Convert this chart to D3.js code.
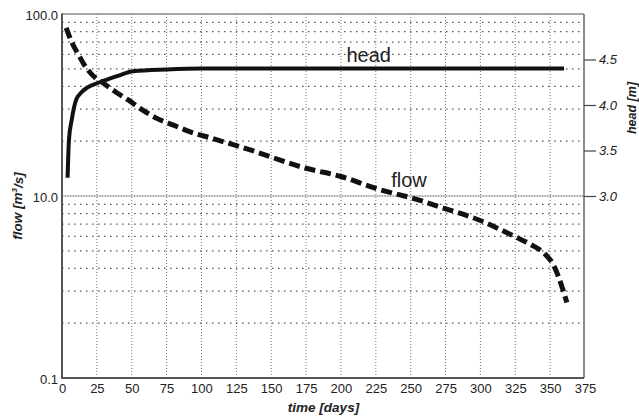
<!DOCTYPE html>
<html>
<head>
<meta charset="utf-8">
<script src="https://cdn.jsdelivr.net/npm/d3@7"></script>
<style>
  body { margin: 0; background: #fff; }
  text { font-family: "Liberation Sans", Arial, sans-serif; }
</style>
</head>
<body>
<div id="chart"></div>
<script>
// flow (left, log axis) and head (right, linear axis) against time
var flowDays = [3, 7, 12, 16, 22, 30, 38, 48, 56, 68, 80, 92, 108, 135, 175, 200, 225, 256, 274, 299, 325, 336, 347, 352, 356, 359, 362];
var flowValues = [84, 70, 59.5, 52.5, 46, 41.5, 37.5, 33.5, 30.3, 26.7, 24.5, 22.5, 20.7, 17.9, 14.2, 12.8, 11.0, 9.5, 8.56, 7.38, 5.97, 5.42, 4.74, 4.23, 3.6, 3.08, 2.6];

var headDays = [4, 5, 7, 10, 14, 18, 27, 40, 51, 75, 100, 360];
var headValues = [3.2, 3.62, 3.84, 4.05, 4.14, 4.19, 4.25, 4.32, 4.37, 4.39, 4.4, 4.4];

var xTicks = [0, 25, 50, 75, 100, 125, 150, 175, 200, 225, 250, 275, 300, 325, 350, 375];
var flowTicks = [1, 10, 100];
var flowTickLabels = ["0.1", "10.0", "100.0"];   // bottom label reads 0.1 in the original
var flowMinor = [2, 3, 4, 5, 6, 7, 8, 9, 20, 30, 40, 50, 60, 70, 80, 90];
var headTicks = [3.0, 3.5, 4.0, 4.5];

const width = 639, height = 420;
const plotLeft = 62, plotRight = 585, plotTop = 14, plotBottom = 378;

const svg = d3.select('#chart').append('svg').attr('width', width).attr('height', height);

const x = d3.scaleLinear().domain([0, 375]).range([plotLeft, plotRight]);
const y = d3.scaleLog().domain([1, 100]).range([plotBottom, plotTop]);
const yh = d3.scaleLinear().domain([1, 5]).range([plotBottom, plotTop]);

// grid
const grid = svg.append('g');
grid.selectAll('.vgrid')
    .data(xTicks.slice(1, -1))
    .enter().append('line')
    .attr('x1', d => x(d)).attr('x2', d => x(d))
    .attr('y1', plotTop).attr('y2', plotBottom)
    .attr('stroke', '#777').attr('stroke-width', 1)
    .attr('stroke-dasharray', '1,2');

grid.selectAll('.hgrid')
    .data(flowMinor)
    .enter().append('line')
    .attr('x1', plotLeft).attr('x2', plotRight - 1)
    .attr('y1', d => y(d)).attr('y2', d => y(d))
    .attr('stroke', '#555').attr('stroke-width', 1.2)
    .attr('stroke-dasharray', '1.5,4.5');

grid.append('line')
    .attr('x1', plotLeft).attr('x2', plotRight - 1)
    .attr('y1', y(10)).attr('y2', y(10))
    .attr('stroke', '#888').attr('stroke-width', 1.5)
    .attr('stroke-dasharray', '1,0.6');

// frame
svg.append('line').attr('x1', plotLeft).attr('x2', plotRight - 1).attr('y1', plotTop).attr('y2', plotTop)
    .attr('stroke', '#888').attr('stroke-width', 1.5);
svg.append('line').attr('x1', plotRight - 1).attr('x2', plotRight - 1).attr('y1', plotTop).attr('y2', plotBottom)
    .attr('stroke', '#666').attr('stroke-width', 1.5);
svg.append('line').attr('x1', plotLeft).attr('x2', plotLeft).attr('y1', plotTop - 0.5).attr('y2', plotBottom + 1)
    .attr('stroke', '#555').attr('stroke-width', 2);
svg.append('line').attr('x1', plotLeft).attr('x2', plotRight - 1).attr('y1', plotBottom).attr('y2', plotBottom)
    .attr('stroke', '#555').attr('stroke-width', 2);

// axes
const xAxis = svg.append('g')
    .attr('transform', 'translate(0,' + plotBottom + ')')
    .call(d3.axisBottom(x).tickValues(xTicks).tickSize(0).tickPadding(6));
xAxis.select('.domain').remove();
xAxis.selectAll('text').attr('font-size', 13).attr('fill', '#222').style('font-family', '"Liberation Sans", Arial, sans-serif');

const yAxis = svg.append('g')
    .attr('transform', 'translate(' + plotLeft + ',0)')
    .call(d3.axisLeft(y).tickValues(flowTicks).tickSize(0).tickPadding(4)
        .tickFormat((d, i) => flowTickLabels[i]));
yAxis.select('.domain').remove();
yAxis.selectAll('text').attr('font-size', 13).attr('fill', '#222').attr('dy', '0.45em')
    .style('font-family', '"Liberation Sans", Arial, sans-serif');

const hAxis = svg.append('g')
    .attr('transform', 'translate(' + (plotRight - 1) + ',0)')
    .call(d3.axisRight(yh).tickValues(headTicks).tickSize(12).tickPadding(3).tickFormat(d3.format('.1f')));
hAxis.select('.domain').remove();
hAxis.selectAll('line').attr('stroke', '#444').attr('stroke-width', 1.2);
hAxis.selectAll('text').attr('font-size', 13).attr('fill', '#222').attr('font-style', 'italic')
    .style('font-family', '"Liberation Sans", Arial, sans-serif');

// titles
svg.append('text')
    .attr('x', (plotLeft + plotRight) / 2).attr('y', 412)
    .attr('text-anchor', 'middle')
    .attr('font-size', 13.5).attr('font-weight', 'bold').attr('font-style', 'italic')
    .attr('fill', '#222')
    .text('time [days]');

const flowTitle = svg.append('text')
    .attr('transform', 'translate(22,206) rotate(-90)')
    .attr('text-anchor', 'middle')
    .attr('font-size', 13.5).attr('font-weight', 'bold').attr('font-style', 'italic')
    .attr('fill', '#222');
flowTitle.append('tspan').text('flow [m');
flowTitle.append('tspan').attr('font-size', 8).attr('dy', '-0.6em').text('3');
flowTitle.append('tspan').attr('dy', '0.45em').text('/s]');

svg.append('text')
    .attr('transform', 'translate(636,108) rotate(-90)')
    .attr('text-anchor', 'middle')
    .attr('font-size', 12.5).attr('font-weight', 'bold').attr('font-style', 'italic')
    .attr('fill', '#222')
    .text('head [m]');

// series
const flowData = flowDays.map((d, i) => ({day: d, v: flowValues[i]}));
const headData = headDays.map((d, i) => ({day: d, v: headValues[i]}));

svg.append('path')
    .datum(headData)
    .attr('fill', 'none').attr('stroke', '#111').attr('stroke-width', 4)
    .attr('d', d3.line().x(d => x(d.day)).y(d => yh(d.v)).curve(d3.curveMonotoneX));

svg.append('path')
    .datum(flowData)
    .attr('fill', 'none').attr('stroke', '#111').attr('stroke-width', 5)
    .attr('stroke-dasharray', '11,5')
    .attr('d', d3.line().x(d => x(d.day)).y(d => y(d.v)).curve(d3.curveMonotoneX));

// series labels
svg.append('text')
    .attr('x', x(204)).attr('y', yh(4.47))
    .attr('font-size', 20).attr('fill', '#222')
    .text('head');

svg.append('text')
    .attr('x', x(236)).attr('y', y(11.2))
    .attr('font-size', 20).attr('fill', '#222')
    .text('flow');
</script>
</body>
</html>
